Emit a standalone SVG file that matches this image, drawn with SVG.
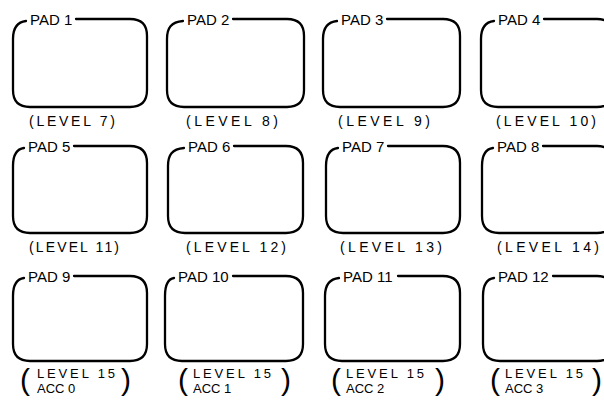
<svg xmlns="http://www.w3.org/2000/svg" width="604" height="401" viewBox="0 0 604 401">
<style>
.pad{fill:none;stroke:#000;stroke-width:2.3;stroke-linecap:round;stroke-linejoin:round}
.t{font-family:"Liberation Sans",Arial,sans-serif;font-size:15px;fill:#000}
.l{font-family:"Liberation Sans",Arial,sans-serif;font-size:14px;fill:#000;text-anchor:middle}
.l3{font-family:"Liberation Sans",Arial,sans-serif;font-size:13px;fill:#000}
.p{font-family:"Liberation Sans",Arial,sans-serif;font-size:30px;fill:#000}
</style>
<rect width="604" height="401" fill="#fff"/>
<g id="pad-1"><path class="pad" d="M26,21 C17,22 13,28 13,39 L13,90 Q13,107 30,107 L130,107 Q147,107 147,90 L147,36 Q147,19 130,19 L76,19"/><text class="t" x="30" y="25">PAD 1</text><text class="l" x="72" y="126" textLength="86" lengthAdjust="spacing">(LEVEL 7)</text></g>
<g id="pad-2"><path class="pad" d="M183,21 C171,22 167,28 167,39 L167,90 Q167,107 184,107 L287,107 Q304,107 304,90 L304,36 Q304,19 287,19 L233,19"/><text class="t" x="187" y="25">PAD 2</text><text class="l" x="232" y="126" textLength="92" lengthAdjust="spacing">(LEVEL 8)</text></g>
<g id="pad-3"><path class="pad" d="M337,21 C327,22 323,28 323,39 L323,90 Q323,107 340,107 L443,107 Q460,107 460,90 L460,36 Q460,19 443,19 L387,19"/><text class="t" x="341" y="25">PAD 3</text><text class="l" x="384" y="126" textLength="92" lengthAdjust="spacing">(LEVEL 9)</text></g>
<g id="pad-4"><path class="pad" d="M494,21 C485,22 481,28 481,39 L481,90 Q481,107 498,107 L597,107 Q614,107 614,90 L614,36 Q614,19 597,19 L544,19"/><text class="t" x="498" y="25">PAD 4</text><text class="l" x="546" y="126" textLength="100" lengthAdjust="spacing">(LEVEL 10)</text></g>
<g id="pad-5"><path class="pad" d="M24,148 C17,149 13,155 13,166 L13,216 Q13,233 30,233 L130,233 Q147,233 147,216 L147,163 Q147,146 130,146 L74,146"/><text class="t" x="28" y="152">PAD 5</text><text class="l" x="74" y="252" textLength="90" lengthAdjust="spacing">(LEVEL 11)</text></g>
<g id="pad-6"><path class="pad" d="M184,148 C172,149 168,155 168,166 L168,216 Q168,233 185,233 L286,233 Q303,233 303,216 L303,163 Q303,146 286,146 L234,146"/><text class="t" x="188" y="152">PAD 6</text><text class="l" x="236" y="252" textLength="100" lengthAdjust="spacing">(LEVEL 12)</text></g>
<g id="pad-7"><path class="pad" d="M338,148 C330,149 326,155 326,166 L326,216 Q326,233 343,233 L443,233 Q460,233 460,216 L460,163 Q460,146 443,146 L388,146"/><text class="t" x="342" y="152">PAD 7</text><text class="l" x="391" y="252" textLength="102" lengthAdjust="spacing">(LEVEL 13)</text></g>
<g id="pad-8"><path class="pad" d="M493,148 C486,149 482,155 482,166 L482,216 Q482,233 499,233 L597,233 Q614,233 614,216 L614,163 Q614,146 597,146 L543,146"/><text class="t" x="497" y="152">PAD 8</text><text class="l" x="548" y="252" textLength="102" lengthAdjust="spacing">(LEVEL 14)</text></g>
<g id="pad-9"><path class="pad" d="M24,278 C17,279 13,285 13,296 L13,344 Q13,361 30,361 L130,361 Q147,361 147,344 L147,293 Q147,276 130,276 L74,276"/><text class="t" x="28" y="282">PAD 9</text><text class="p" x="20" y="390">(</text><text class="l3" x="37" y="378" textLength="78" lengthAdjust="spacing">LEVEL 15</text><text class="l3" x="37" y="393">ACC 0</text><text class="p" x="121" y="390">)</text></g>
<g id="pad-10"><path class="pad" d="M174,278 C168,279 165,285 165,296 L165,344 Q165,361 182,361 L286,361 Q303,361 303,344 L303,293 Q303,276 286,276 L233,276"/><text class="t" x="178" y="282">PAD 10</text><text class="p" x="178" y="390">(</text><text class="l3" x="193" y="378" textLength="78" lengthAdjust="spacing">LEVEL 15</text><text class="l3" x="193" y="393">ACC 1</text><text class="p" x="281" y="390">)</text></g>
<g id="pad-11"><path class="pad" d="M339,278 C329,279 325,285 325,296 L325,344 Q325,361 342,361 L443,361 Q460,361 460,344 L460,293 Q460,276 443,276 L398,276"/><text class="t" x="343" y="282">PAD 11</text><text class="p" x="331" y="390">(</text><text class="l3" x="346" y="378" textLength="78" lengthAdjust="spacing">LEVEL 15</text><text class="l3" x="346" y="393">ACC 2</text><text class="p" x="435" y="390">)</text></g>
<g id="pad-12"><path class="pad" d="M494,278 C487,279 483,285 483,296 L483,344 Q483,361 500,361 L597,361 Q614,361 614,344 L614,293 Q614,276 597,276 L553,276"/><text class="t" x="498" y="282">PAD 12</text><text class="p" x="490" y="390">(</text><text class="l3" x="505" y="378" textLength="78" lengthAdjust="spacing">LEVEL 15</text><text class="l3" x="505" y="393">ACC 3</text><text class="p" x="592" y="390">)</text></g>
</svg>
